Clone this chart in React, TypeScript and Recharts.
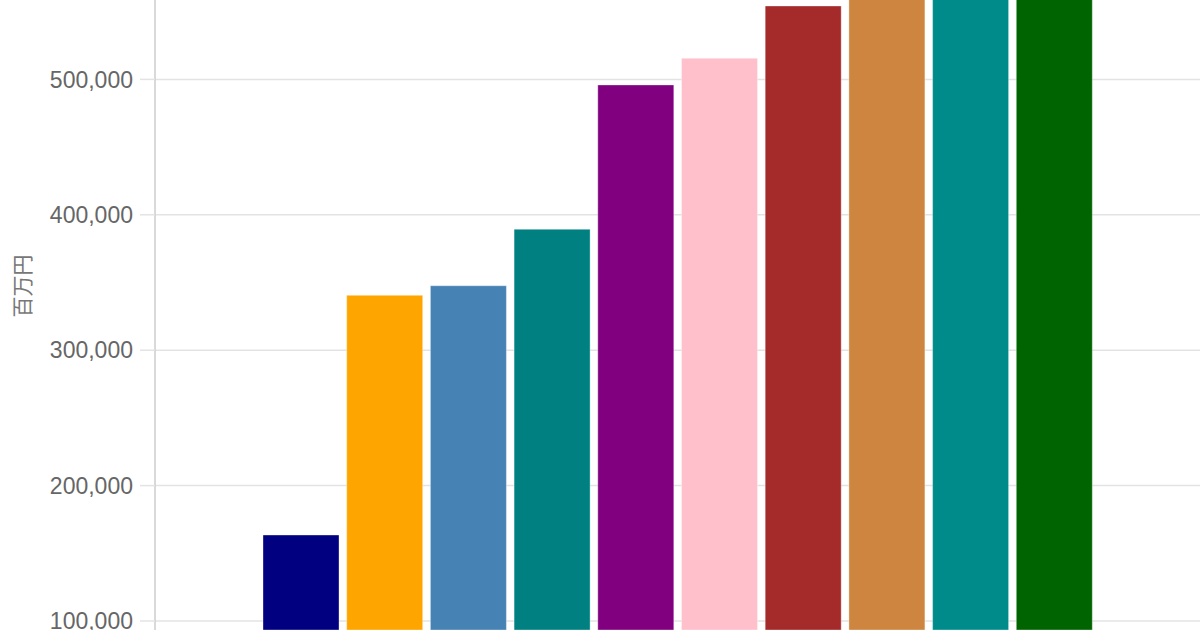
import { BarChart, Bar, Cell, XAxis, YAxis, CartesianGrid } from "recharts";

// one bar per item, left to right
const categories = ["1", "2", "3", "4", "5", "6", "7", "8", "9", "10"];
const values = [163500, 340500, 347600, 389300, 495900, 515600, 554200, 590000, 615000, 640000];
const colors = [
  "#000080", "#FFA500", "#4682B4", "#008080", "#800080",
  "#FFC0CB", "#A52A2A", "#CD853F", "#008B8B", "#006400",
];
const yTicks = [100000, 200000, 300000, 400000, 500000];
const yUnit = "百万円";

const data = categories.map((name, i) => ({ name, value: values[i] }));

const fmt = (v: number) => v.toLocaleString("en-US");

export default function App() {
  return (
    <div
      style={{
        position: "absolute",
        left: 0,
        top: 0,
        width: 1200,
        height: 630,
        background: "#fff",
        fontFamily: "'Liberation Sans', Arial, sans-serif",
      }}
    >
      <BarChart
        width={1200}
        height={630}
        data={data}
        margin={{ top: 0, right: 0, bottom: 0, left: 0 }}
        barCategoryGap={4}
      >
        <CartesianGrid vertical={false} stroke="#e3e3e3" strokeWidth={1.5} syncWithTicks />
        <XAxis dataKey="name" hide padding={{ left: 104, right: 104 }} />
        <YAxis
          width={155}
          domain={[93350, 558640]}
          allowDataOverflow
          ticks={yTicks}
          interval={0}
          tickFormatter={fmt}
          tickSize={15}
          tickMargin={7}
          tickLine={{ stroke: "#e3e3e3", strokeWidth: 1.5 }}
          axisLine={{ stroke: "#cccccc", strokeWidth: 1.5 }}
          tick={{ fill: "#666666", fontSize: 23 }}
          label={{
            content: ({ viewBox }: any) => {
              const cx = viewBox.x + 21;
              const cy = viewBox.y + viewBox.height / 2 - 29;
              return (
                <text
                  x={cx}
                  y={cy}
                  transform={`rotate(-90 ${cx} ${cy})`}
                  textAnchor="middle"
                  dominantBaseline="central"
                  fill="#777777"
                  fontSize={21}
                  fontFamily="'Noto Sans CJK JP', sans-serif"
                >
                  {yUnit}
                </text>
              );
            },
          }}
        />
        <Bar dataKey="value" isAnimationActive={false} stroke="#ffffff" strokeOpacity={0.35}>
          {data.map((d, i) => (
            <Cell key={d.name} fill={colors[i]} />
          ))}
        </Bar>
      </BarChart>
    </div>
  );
}
